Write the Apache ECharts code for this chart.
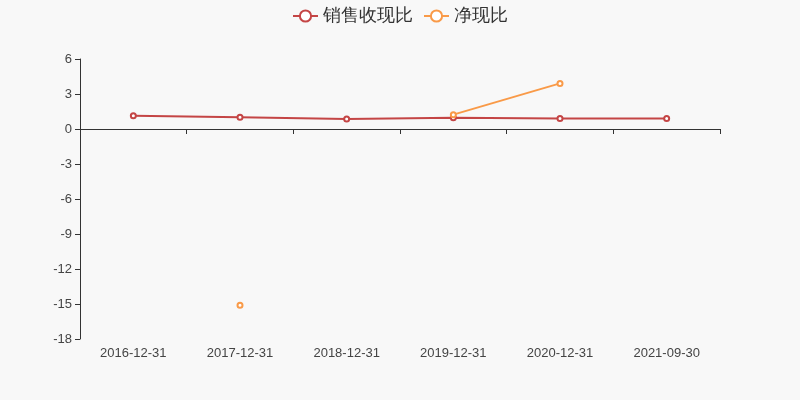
<!DOCTYPE html>
<html><head><meta charset="utf-8">
<script src="https://cdn.jsdelivr.net/npm/echarts@6/dist/echarts.min.js"></script>
<style>html,body{margin:0;padding:0;background:#f8f8f8}#c{width:800px;height:400px}</style>
</head><body><div id="c"></div>
<script>
const categories = ['2016-12-31','2017-12-31','2018-12-31','2019-12-31','2020-12-31','2021-09-30'];
const salesCashRatio = [1.14, 1.0, 0.86, 0.97, 0.89, 0.89];
const netCashRatio = [null, -15.1, null, 1.23, 3.91, null];
const yTicks = {min: -18, max: 6, interval: 3};

const chart = echarts.init(document.getElementById('c'));
chart.setOption({
  backgroundColor: '#f8f8f8',
  color: ['#c44545', '#f99a48'],
  legend: {
    top: 2, left: 'center', itemWidth: 25, itemHeight: 14, itemGap: 10,
    textStyle: {fontSize: 18, color: '#333'},
    itemStyle: {borderWidth: 1},
    data: ['销售收现比', '净现比']
  },
  grid: {left: 80, right: 80, top: 59, bottom: 61},
  xAxis: [{
    type: 'category', data: categories,
    axisLine: {onZero: true, lineStyle: {color: '#333'}},
    axisTick: {show: true, lineStyle: {color: '#333'}},
    axisLabel: {show: false}
  }, {
    type: 'category', data: categories, position: 'bottom',
    axisLine: {show: false, onZero: false}, axisTick: {show: false},
    axisLabel: {color: '#444', fontSize: 13, margin: 8}
  }],
  yAxis: {
    type: 'value', min: yTicks.min, max: yTicks.max, interval: yTicks.interval,
    axisLine: {show: true, lineStyle: {color: '#333'}},
    axisTick: {show: true, lineStyle: {color: '#333'}},
    axisLabel: {color: '#444', fontSize: 13},
    splitLine: {show: false}
  },
  series: [{
    name: '销售收现比', type: 'line', data: salesCashRatio,
    symbol: 'emptyCircle', symbolSize: 5, itemStyle: {borderWidth: 1}, lineStyle: {width: 2}
  }, {
    name: '净现比', type: 'line', data: netCashRatio,
    symbol: 'emptyCircle', symbolSize: 5, itemStyle: {borderWidth: 1}, lineStyle: {width: 2}
  }]
});
</script></body></html>
